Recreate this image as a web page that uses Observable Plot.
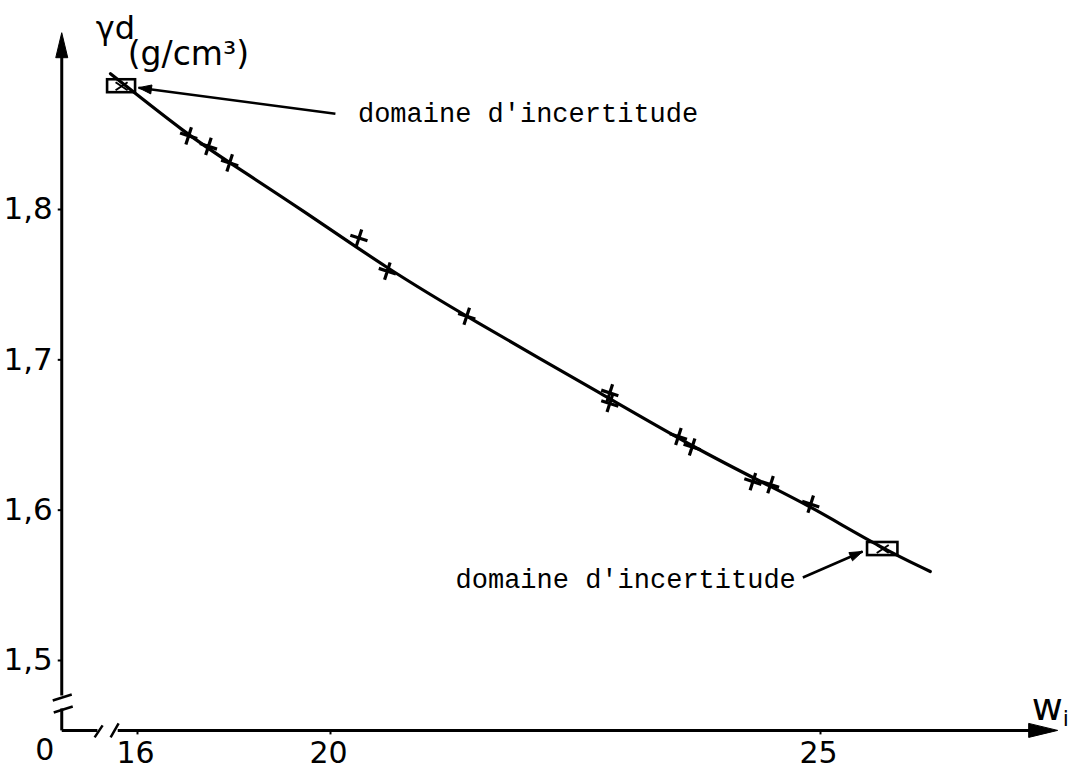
<!DOCTYPE html>
<html><head><meta charset="utf-8">
<script src="https://cdn.jsdelivr.net/npm/d3@7"></script>
<script src="https://cdn.jsdelivr.net/npm/@observablehq/plot@0.6"></script>
<style>html,body{margin:0;padding:0;background:#fff}svg{display:block}</style>
</head><body><div id="chart"></div>
<script>
// ---------- data ----------
// measured points: water content w_i (%) and dry density γd (g/cm³)
const wMeasured = [17.06, 17.47, 17.91, 20.29, 20.58, 21.39, 22.85, 22.85, 23.55, 23.69, 24.31, 24.49, 24.90];
const gMeasured = [1.849, 1.842, 1.831, 1.781, 1.759, 1.729, 1.678, 1.671, 1.649, 1.642, 1.619, 1.617, 1.604];
// hand-drawn fitted curve
const wCurve = [15.44, 17.06, 17.91, 19.38, 20.58, 21.39, 22.85, 23.69, 24.49, 24.90, 25.63, 26.12];
const gCurve = [1.8903, 1.8491, 1.8311, 1.8005, 1.7606, 1.7287, 1.6742, 1.6423, 1.6157, 1.6024, 1.5745, 1.5592];
// uncertainty domains (boxes)
const boxWmin = [15.38, 25.48];
const boxWmax = [15.96, 25.79];
const boxGmin = [1.8777, 1.5698];
const boxGmax = [1.8863, 1.5785];
// annotations
const annoText = ["domaine d'incertitude", "domaine d'incertitude"];
const annoTextW = [20.28, 21.276];
const annoTextG = [1.8641, 1.5543];
const annoFromW = [20.05, 24.82];
const annoFromG = [1.8637, 1.5552];
const annoToW = [16.02, 25.43];
const annoToG = [1.8810, 1.5725];
// ticks
const xTicks = [16, 20, 25];
const xTickLabels = ["16", "20", "25"];
const yTicks = [1.5, 1.6, 1.7, 1.8];
const yTickLabels = ["1,5", "1,6", "1,7", "1,8"];
// axis geometry (broken axes) in data units
const wOrigin = 14.43, gOrigin = 1.4535;
const gYBreakLow = 1.4681, gYBreakHigh = 1.4767, gYBreak = 1.4714;
const wXBreakLow = 15.17, wXBreakHigh = 15.59, wXBreak = 15.36;
const gTop = 1.9050, gTip = 1.9176;
const wEnd = 27.14, wTip = 27.42;

// ---------- scales ----------
const xScaleOpts = {type: "linear", domain: [16, 20, 25], range: [137, 330, 820]};
const yScaleOpts = {type: "linear", domain: [1.5, 1.8], range: [660, 209]};
const sx = Plot.scale({x: xScaleOpts});
const sy = Plot.scale({y: yScaleOpts});

// ---------- symbols ----------
function arrowHead(theta, L, H) {
  const c = Math.cos(theta), s = Math.sin(theta);
  return {draw(ctx) {
    const bx = -L * c, by = -L * s, px = -s * H, py = c * H;
    ctx.moveTo(0, 0); ctx.lineTo(bx + px, by + py); ctx.lineTo(bx - px, by - py); ctx.closePath();
  }};
}
function tiltedPlus(deg, a) {
  const t = deg * Math.PI / 180, c = Math.cos(t), s = Math.sin(t);
  return {draw(ctx) {
    ctx.moveTo(-a * c, -a * s); ctx.lineTo(a * c, a * s);
    ctx.moveTo(a * s, -a * c); ctx.lineTo(-a * s, a * c);
  }};
}
const timesSym = {draw(ctx) { ctx.moveTo(-6, -4); ctx.lineTo(6, 4); ctx.moveTo(-6, 4); ctx.lineTo(6, -4); }};
const yBreakSym = {draw(ctx) {
  ctx.moveTo(-9, -3); ctx.lineTo(10, -9);
  ctx.moveTo(-8, 9); ctx.lineTo(11, 3);
}};
const xBreakSym = {draw(ctx) {
  ctx.moveTo(-12, 7); ctx.lineTo(-4, -5);
  ctx.moveTo(4, 7); ctx.lineTo(12, -7);
}};
const xTickSym = {draw(ctx) { ctx.moveTo(0, 0); ctx.lineTo(0, 4); }};
const yTickSym = {draw(ctx) { ctx.moveTo(0, 0); ctx.lineTo(-4, 0); }};

// ---------- tables ----------
const measured = wMeasured.map((w, i) => ({w, g: gMeasured[i]}));
const curve = wCurve.map((w, i) => ({w, g: gCurve[i]}));
const boxes = boxWmin.map((w, i) => ({w1: w, w2: boxWmax[i], g1: boxGmin[i], g2: boxGmax[i],
  wc: (w + boxWmax[i]) / 2, gc: (boxGmin[i] + boxGmax[i]) / 2}));
const annos = annoText.map((t, i) => ({t, w: annoTextW[i], g: annoTextG[i],
  w1: annoFromW[i], g1: annoFromG[i], w2: annoToW[i], g2: annoToG[i]}));
const xt = xTicks.map((v, i) => ({v, label: xTickLabels[i]}));
const yt = yTicks.map((v, i) => ({v, label: yTickLabels[i]}));
const axisSegs = [
  {w1: wOrigin, g1: gYBreakHigh, w2: wOrigin, g2: gTop},
  {w1: wOrigin, g1: gOrigin, w2: wOrigin, g2: gYBreakLow},
  {w1: wOrigin, g1: gOrigin, w2: wXBreakLow, g2: gOrigin},
  {w1: wXBreakHigh, g1: gOrigin, w2: wEnd, g2: gOrigin}
];

const headMarks = annos.map(a => {
  const dx = sx.apply(a.w2) - sx.apply(a.w1), dy = sy.apply(a.g2) - sy.apply(a.g1);
  return Plot.dot([a], {x: "w2", y: "g2", symbol: arrowHead(Math.atan2(dy, dx), 13, 4.5), fill: "black", stroke: "black", strokeWidth: 1});
});

const labelFont = "DejaVu Sans, sans-serif";
const chart = Plot.plot({
  width: 1072, height: 771, margin: 0,
  style: {background: "white", fontFamily: labelFont},
  x: {...xScaleOpts, axis: null},
  y: {...yScaleOpts, axis: null},
  marks: [
    // axes
    Plot.link(axisSegs, {x1: "w1", y1: "g1", x2: "w2", y2: "g2", stroke: "black", strokeWidth: 3}),
    Plot.dot([{w: wOrigin, g: gTip}], {x: "w", y: "g", symbol: arrowHead(-Math.PI / 2, 25, 6), fill: "black", stroke: "black", strokeWidth: 1}),
    Plot.dot([{w: wTip, g: gOrigin}], {x: "w", y: "g", symbol: arrowHead(0, 29, 7), fill: "black", stroke: "black", strokeWidth: 1}),
    Plot.dot([{w: wOrigin, g: gYBreak}], {x: "w", y: "g", symbol: yBreakSym, fill: "none", stroke: "black", strokeWidth: 2.5}),
    Plot.dot([{w: wXBreak, g: gOrigin}], {x: "w", y: "g", symbol: xBreakSym, fill: "none", stroke: "black", strokeWidth: 2.5}),
    Plot.dot(xt, {x: "v", y: () => gOrigin, symbol: xTickSym, fill: "none", stroke: "black", strokeWidth: 2}),
    Plot.dot(yt, {x: () => wOrigin, y: "v", symbol: yTickSym, fill: "none", stroke: "black", strokeWidth: 2}),
    Plot.text(xt, {x: "v", y: () => gOrigin, text: "label", dy: 23, dx: -2, fontSize: 30, lineAnchor: "middle", fill: "black"}),
    Plot.text(yt, {x: () => wOrigin, y: "v", text: "label", dx: -9, fontSize: 31, textAnchor: "end", fill: "black"}),
    Plot.text([{w: wOrigin, g: gOrigin}], {x: "w", y: "g", text: () => "0", dx: -17, dy: 20, fontSize: 30, lineAnchor: "middle", fill: "black"}),
    // axis titles
    Plot.text([{w: wOrigin, g: gTip}], {x: "w", y: "g", text: () => "γd", dx: 34, dy: 6, fontSize: 32, textAnchor: "start", lineAnchor: "bottom", fill: "black"}),
    Plot.text([{w: wOrigin, g: gTip}], {x: "w", y: "g", text: () => "(g/cm³)", dx: 66, dy: 32, fontSize: 33, textAnchor: "start", lineAnchor: "bottom", fill: "black"}),
    Plot.text([{w: wTip, g: gOrigin}], {x: "w", y: "g", text: () => "w", dx: -26, dy: -10, fontSize: 38, textAnchor: "start", lineAnchor: "bottom", fill: "black"}),
    Plot.text([{w: wTip, g: gOrigin}], {x: "w", y: "g", text: () => "i", dx: 5, dy: -4, fontSize: 22, textAnchor: "start", lineAnchor: "bottom", fill: "black"}),
    // curve
    Plot.line(curve, {x: "w", y: "g", curve: "basis", stroke: "black", strokeWidth: 3.2}),
    // measured points
    Plot.dot(measured, {x: "w", y: "g", symbol: tiltedPlus(18, 9), fill: "none", stroke: "black", strokeWidth: 3.2}),
    // uncertainty boxes
    Plot.rect(boxes, {x1: "w1", x2: "w2", y1: "g1", y2: "g2", fill: "none", stroke: "black", strokeWidth: 2.6}),
    Plot.dot(boxes, {x: "wc", y: "gc", symbol: timesSym, fill: "none", stroke: "black", strokeWidth: 2}),
    // annotations
    Plot.link(annos, {x1: "w1", y1: "g1", x2: "w2", y2: "g2", stroke: "black", strokeWidth: 2.5}),
    ...headMarks,
    Plot.text(annos, {x: "w", y: "g", text: "t", textAnchor: "start", fontSize: 27, fontFamily: "Liberation Mono, monospace", fill: "black"})
  ]
});
document.getElementById("chart").appendChild(chart);
</script>
</body></html>
